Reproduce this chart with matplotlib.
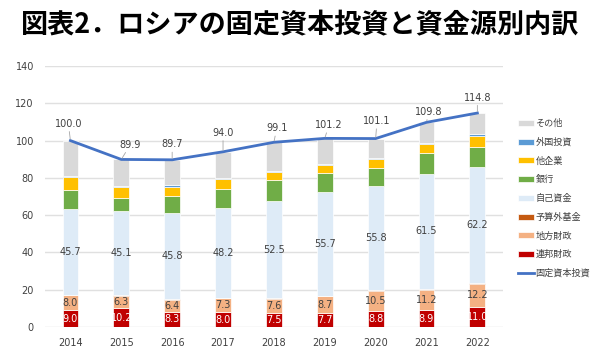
import matplotlib
matplotlib.use('Agg')
import matplotlib.pyplot as plt
import numpy as np

plt.rcParams['font.family'] = ['Noto Sans CJK JP', 'DejaVu Sans']

years = ['2014', '2015', '2016', '2017', '2018', '2019', '2020', '2021', '2022']

# 資金源別内訳 (下から順に)
federal = [9.0, 10.2, 8.3, 8.0, 7.5, 7.7, 8.8, 8.9, 11.0]
regional = [8.0, 6.3, 6.4, 7.3, 7.6, 8.7, 10.5, 11.2, 12.2]
offbudget = [0.4, 0.5, 0.4, 0.2, 0.2, 0.2, 0.4, 0.4, 0.6]
own = [45.7, 45.1, 45.8, 48.2, 52.5, 55.7, 55.8, 61.5, 62.2]
banks = [10.6, 7.0, 9.3, 10.6, 10.9, 10.2, 9.6, 11.4, 10.5]
firms = [6.6, 5.8, 5.0, 4.9, 4.3, 4.4, 4.8, 5.0, 6.2]
foreign = [0.7, 0.9, 0.9, 0.7, 0.7, 0.5, 0.7, 0.5, 0.6]
total = [100.0, 89.9, 89.7, 94.0, 99.1, 101.2, 101.1, 109.8, 114.8]
other = [round(t - sum(v), 1) for t, v in zip(total, zip(federal, regional, offbudget, own, banks, firms, foreign))]

series = [
    ('連邦財政', federal, '#c00000'),
    ('地方財政', regional, '#f4b183'),
    ('予算外基金', offbudget, '#c55a11'),
    ('自己資金', own, '#deebf7'),
    ('銀行', banks, '#70ad47'),
    ('他企業', firms, '#ffc000'),
    ('外国投資', foreign, '#5b9bd5'),
    ('その他', other, '#d9d9d9'),
]

fig = plt.figure(figsize=(6, 3.57), dpi=100)
ax = fig.add_axes([0.075, 0.084, 0.763, 0.731])

x = np.arange(len(years))
bottom = np.zeros(len(years))
bars = {}
for name, vals, col in series:
    bars[name] = ax.bar(x, vals, 0.31, bottom=bottom, color=col, label=name,
                        edgecolor='white', linewidth=0.5, zorder=2)
    bottom += np.array(vals)

# bar value labels
for name, vals, txtcol in [('連邦財政', federal, 'white'), ('地方財政', regional, '#404040'),
                           ('自己資金', own, '#404040')]:
    ax.bar_label(bars[name], labels=[f'{v:.1f}' for v in vals],
                 label_type='center', color=txtcol, fontsize=7, family='DejaVu Sans', zorder=4)

line, = ax.plot(x, total, color='#4472c4', lw=2, label='固定資本投資', zorder=3)
offsets = [(-1.5, 8.5), (6.5, 7), (0, 7.5), (0, 10), (2, 6.5), (3, 6), (1, 9), (1.5, 4), (0, 7.5)]
for xi, v, off in zip(x, total, offsets):
    ax.annotate(f'{v:.1f}', (xi, v), xytext=off, textcoords='offset points',
                ha='center', va='bottom', fontsize=7, color='#404040', family='DejaVu Sans',
                arrowprops=dict(arrowstyle='-', color='#a6a6a6', lw=0.6, shrinkA=0, shrinkB=1),
                zorder=4)

ax.set_ylim(0, 140)
ax.set_yticks(range(0, 141, 20))
ax.set_xlim(-0.5, len(years) - 0.5)
ax.set_xticks(x)
ax.set_xticklabels(years)
ax.tick_params(length=0, labelsize=7, colors='#404040', pad=8)
for lab in ax.get_xticklabels() + ax.get_yticklabels():
    lab.set_family('DejaVu Sans')
ax.yaxis.grid(True, color='#e0e0e0', lw=1, zorder=0)
ax.set_axisbelow(True)
for s in ax.spines.values():
    s.set_visible(False)

handles = [bars[n] for n in ['その他', '外国投資', '他企業', '銀行', '自己資金', '予算外基金', '地方財政', '連邦財政']] + [line]
leg = fig.legend(handles, [h.get_label() for h in handles], loc='upper left',
                 bbox_to_anchor=(0.852, 0.685), frameon=False, fontsize=6.6,
                 handlelength=1.75, handleheight=0.6, handletextpad=0.2, labelspacing=1.05,
                 borderpad=0.2, labelcolor='#404040')

fig.text(0.5, 0.93, '図表2．ロシアの固定資本投資と資金源別内訳', ha='center', va='center',
         fontsize=19.5, fontweight='bold', color='black')

fig.savefig('out.png', dpi=100)
